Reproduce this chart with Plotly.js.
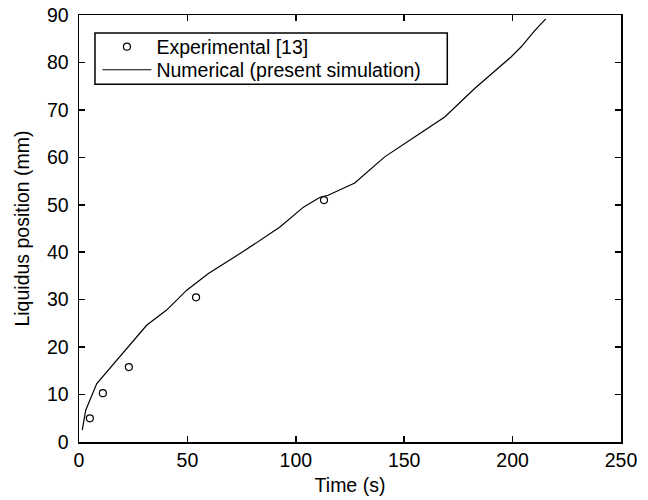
<!DOCTYPE html>
<html>
<head>
<meta charset="utf-8">
<script src="https://cdn.plot.ly/plotly-3.0.1.min.js"></script>
<style>html,body{margin:0;padding:0;background:#fff;}#chart{width:648px;height:500px;}</style>
</head>
<body>
<div id="chart"></div>
<script>
const expTime = [5, 11, 23, 54, 113];
const expPos = [5.0, 10.3, 15.8, 30.5, 51.0];

const numTime = [1.5, 3.1, 8.2, 14.3, 22.7, 31.2, 40.4, 49.7, 59.7, 76.6, 92.7, 103.5, 111.2, 114.9, 127.2, 141, 154.8, 168.7, 182.5, 199.4, 204, 210.2, 215.3];
const numPos = [2.5, 6.7, 12.3, 15.5, 20.0, 24.6, 27.8, 32.0, 35.5, 40.4, 45.3, 49.5, 51.6, 52.0, 54.6, 60.1, 64.3, 68.5, 74.5, 81.2, 83.3, 86.7, 89.2];

const xTicks = [0, 50, 100, 150, 200, 250];
const yTicks = [0, 10, 20, 30, 40, 50, 60, 70, 80, 90];

const font = {family: 'Liberation Sans, Arial, sans-serif', size: 19.5, color: '#000'};

const traces = [
  {x: expTime, y: expPos, mode: 'markers', name: 'Experimental [13]', legend: 'legend',
   marker: {symbol: 'circle-open', size: 7, color: '#000', line: {width: 1.2, color: '#000'}}},
  {x: numTime, y: numPos, mode: 'lines', name: 'Numerical (present simulation)', legend: 'legend2',
   line: {color: '#000', width: 1.2}}
];

const axisCommon = {
  showgrid: false, zeroline: false, showline: true, linecolor: '#000', linewidth: 1.5,
  mirror: 'ticks', ticks: 'inside', ticklen: 6, tickwidth: 1.5, tickcolor: '#000',
  tickfont: font
};

const legendCommon = {x: 0.034, xanchor: 'left', yanchor: 'middle', borderwidth: 0,
  bgcolor: 'rgba(0,0,0,0)', font: font, itemwidth: 49};

const layout = {
  width: 648, height: 500,
  margin: {l: 79, r: 27, t: 15, b: 58},
  paper_bgcolor: '#fff', plot_bgcolor: '#fff',
  font: font,
  showlegend: true,
  legend: Object.assign({}, legendCommon, {y: 0.925}),
  legend2: Object.assign({}, legendCommon, {y: 0.871}),
  shapes: [{type: 'rect', xref: 'paper', yref: 'paper', x0: 0.0295, x1: 0.6795, y0: 0.838, y1: 0.958,
            line: {color: '#000', width: 1.5}, fillcolor: 'rgba(0,0,0,0)', layer: 'above'}],
  xaxis: Object.assign({}, axisCommon, {range: [0, 250], tickvals: xTicks, ticklabelstandoff: 0,
          title: {text: 'Time (s)', font: font, standoff: 8}}),
  yaxis: Object.assign({}, axisCommon, {range: [0, 90], tickvals: yTicks, ticklabelstandoff: 5,
          title: {text: 'Liquidus position (mm)', font: font, standoff: 12}})
};

Plotly.newPlot('chart', traces, layout, {displayModeBar: false, staticPlot: true});
</script>
</body>
</html>
